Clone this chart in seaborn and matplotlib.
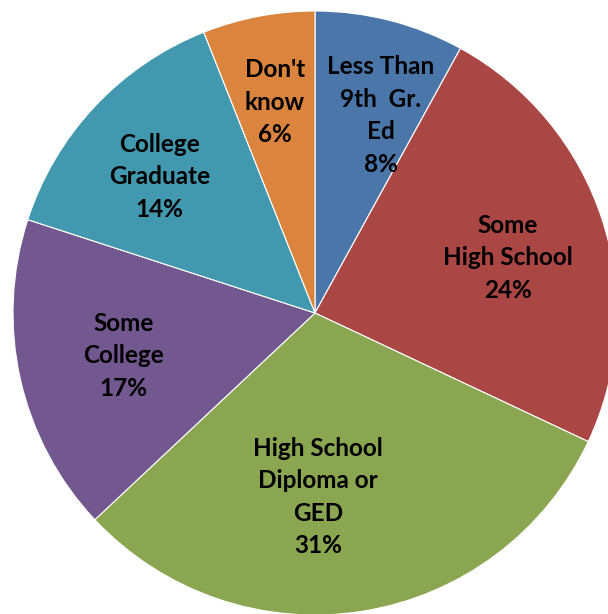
import numpy as np
import matplotlib
matplotlib.use("Agg")
import matplotlib.pyplot as plt
import seaborn as sns

# ---- data ----
categories = ["Less Than\n9th  Gr.\nEd", "Some\nHigh School", "High School\nDiploma or\nGED",
              "Some\nCollege", "College\nGraduate", "Don't\nknow"]
percent = [8, 24, 31, 17, 14, 6]
colors = ["#4A76AA", "#AA4745", "#8BA650", "#72588F", "#4198AF", "#DB843D"]

# label layout (radial fraction, angle tweak in degrees)
label_radius = [0.69, 0.665, 0.61, 0.65, 0.685, 0.71]
label_dtheta = [-4, -2, -8, 0, 2, 0]

sns.set_theme(style="white")
plt.rcParams["font.family"] = ["Lato", "DejaVu Sans"]

W, H = 608, 614
cx, cy, R = 315, 313, 302
fig = plt.figure(figsize=(W / 100, H / 100), dpi=100)
ax = fig.add_axes([0, 0, 1, 1])

wedges, _ = ax.pie(percent, colors=colors, startangle=90, counterclock=False,
                   radius=1.0, center=(0, 0), frame=True,
                   wedgeprops=dict(edgecolor="white", linewidth=0.8))
ax.set_xlim(-cx / R, (W - cx) / R)
ax.set_ylim(-(H - cy) / R, cy / R)
ax.set_aspect("equal")
ax.axis("off")

for w, cat, p, r, dt in zip(wedges, categories, percent, label_radius, label_dtheta):
    mid = np.deg2rad((w.theta1 + w.theta2) / 2 + dt)
    ax.text(r * np.cos(mid), r * np.sin(mid), f"{cat}\n{p}%", ha="center", va="center",
            fontsize=17.5, fontweight="bold", color="black", linespacing=1.5)

fig.savefig("out.png", dpi=100)
